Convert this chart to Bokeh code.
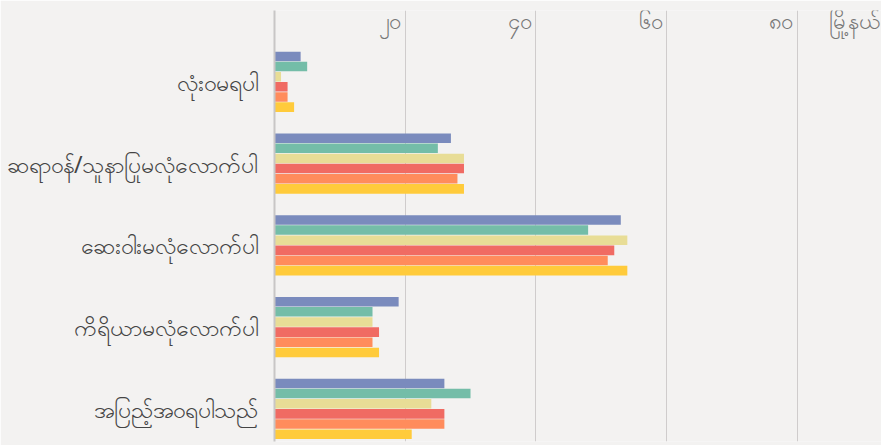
from bokeh.plotting import figure
from bokeh.models import ColumnDataSource, Range1d, FixedTicker, Label
from bokeh.transform import dodge
from bokeh.embed import file_html
from bokeh.resources import INLINE

categories = ["လုံးဝမရပါ", "ဆရာဝန်/သူနာပြုမလုံလောက်ပါ", "ဆေးဝါးမလုံလောက်ပါ",
              "ကိရိယာမလုံလောက်ပါ", "အပြည့်အဝရပါသည်"]
series_names = ["s1", "s2", "s3", "s4", "s5", "s6"]
s1 = [4, 27, 53, 19, 26]
s2 = [5, 25, 48, 15, 30]
s3 = [1, 29, 54, 15, 24]
s4 = [2, 29, 52, 16, 26]
s5 = [2, 28, 51, 15, 26]
s6 = [3, 29, 54, 16, 21]
series_values = [s1, s2, s3, s4, s5, s6]
colors = ["#7a8bbd", "#74bda8", "#e8dd96", "#f06b63", "#ff8c5c", "#ffcb3b"]
x_ticks = [20, 40, 60, 80]
x_tick_labels = ["၂၀", "၄၀", "၆၀", "၈၀"]
unit_label = "မြို့နယ်"

FONT = "Noto Sans"
BG = "#f3f2f1"
W, H = 881, 445

ypos = list(range(len(categories)))
data = {"y": ypos}
for name, vals in zip(series_names, series_values):
    data[name] = vals
src = ColumnDataSource(data)

p = figure(width=W, height=H, output_backend="svg", toolbar_location=None,
           x_range=Range1d(0, 92.9), y_range=Range1d(4.4, -0.872),
           min_border_left=274, min_border_top=10, min_border_bottom=4,
           min_border_right=0, x_axis_location=None)
p.background_fill_color = BG
p.border_fill_color = BG
p.outline_line_color = None

step = 0.124
n = len(series_names)
for j, (name, col) in enumerate(zip(series_names, colors)):
    off = (j - (n - 1) / 2) * step
    p.hbar(y=dodge("y", off), right=name, left=0, height=step * 0.94,
           source=src, color=col, line_color=None)

p.xgrid.ticker = FixedTicker(ticks=x_ticks)
p.xgrid.grid_line_color = "#cfcccc"
p.xgrid.grid_line_width = 1
p.ygrid.grid_line_color = None

ax = p.yaxis[0]
ax.ticker = FixedTicker(ticks=ypos)
ax.major_label_overrides = {i: c for i, c in zip(ypos, categories)}
ax.major_tick_line_color = None
ax.minor_tick_line_color = None
ax.axis_line_color = "#c8c6c6"
ax.axis_line_width = 2
ax.major_label_text_font = FONT
ax.major_label_text_font_size = "23px"
ax.major_label_text_color = "#444444"
ax.major_label_standoff = 11

for xv, lab in zip(x_ticks, x_tick_labels):
    p.add_layout(Label(x=xv, y=H - 8, x_units="data", y_units="screen", text=lab,
                       text_align="right", text_baseline="top", x_offset=-4,
                       text_font=FONT, text_font_size="22px", text_color="#777777"))
p.add_layout(Label(x=W - 274 - 2, y=H - 8, x_units="screen", y_units="screen", text=unit_label,
                   text_align="right", text_baseline="top",
                   text_font=FONT, text_font_size="22px", text_color="#777777"))

open("out.html", "w").write(file_html(p, INLINE))
